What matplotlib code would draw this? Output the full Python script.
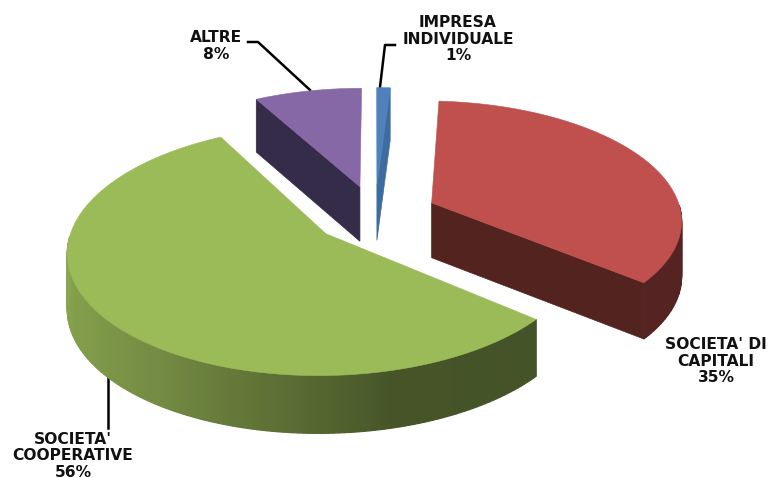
import numpy as np
import matplotlib
matplotlib.use("Agg")
import matplotlib.pyplot as plt
from matplotlib.colors import to_rgb

categories = ["IMPRESA\nINDIVIDUALE", "SOCIETA' DI\nCAPITALI", "SOCIETA'\nCOOPERATIVE", "ALTRE"]
shares = [1, 35, 56, 8]
top_colors = ["#4F81BD", "#C0504D", "#9BBB59", "#8768A6"]
cut_colors = ["#3E6C9E", "#52231F", "#3F4D22", "#352C49"]

CX, CY, A, B, K, EXPL, DEPTH = 375, 214.5, 250, 118, 0.13, 0.25, 55

def project(X, Y, drop=0.0):
    w = 1 + K * Y
    return CX + A * X / w, CY - B * Y / w + drop / w ** 0.3

def rim(t, ox, oy, drop=0.0):
    return project(ox + np.sin(t), oy + np.cos(t), drop)

def side_shade(base_top, t):
    deg = np.degrees(t)
    stops_x = [90, 165, 185, 215, 235, 270]
    stops_f = [0.44, 0.45, 0.58, 0.75, 0.82, 0.9]
    return np.array(to_rgb(base_top)) * np.interp(deg, stops_x, stops_f)

fig = plt.figure(figsize=(7.69, 4.78), dpi=100)
ax = fig.add_axes([0, 0, 1, 1])
ax.set_xlim(0, 769)
ax.set_ylim(478, 0)
ax.axis("off")

fracs = np.array(shares) / sum(shares)
edges = np.concatenate([[0], np.cumsum(fracs)]) * 2 * np.pi

lw = 1.8
ax.plot([248, 258, 310], [42, 42, 90], color="black", lw=lw, zorder=0.5)
ax.plot([395, 385, 380], [45, 45, 87], color="black", lw=lw, zorder=0.5)
ax.plot([108, 108], [360, 428], color="black", lw=lw, zorder=0.5)

order = [3, 0, 1, 2]
for i in order:
    t0, t1 = edges[i], edges[i + 1]
    mid = (t0 + t1) / 2
    ox, oy = EXPL * np.sin(mid), EXPL * np.cos(mid)
    ts = np.linspace(t0, t1, max(4, int(np.degrees(t1 - t0))))
    for t, vis in ((t0, np.sin(t0) < 0), (t1, np.sin(t1) > 0)):
        if vis:
            p0 = project(ox, oy); p1 = rim(t, ox, oy)
            p2 = rim(t, ox, oy, DEPTH); p3 = project(ox, oy, DEPTH)
            ax.fill([p0[0], p1[0], p2[0], p3[0]], [p0[1], p1[1], p2[1], p3[1]],
                    color=cut_colors[i], lw=0.5, zorder=i + 1)
    for a, b in zip(ts[:-1], ts[1:]):
        m = (a + b) / 2
        if np.cos(m) < -0.02:
            p = rim(a, ox, oy); q = rim(b, ox, oy)
            r = rim(b, ox, oy, DEPTH); s = rim(a, ox, oy, DEPTH)
            col = side_shade(top_colors[i], m)
            ax.fill([p[0], q[0], r[0], s[0]], [p[1], q[1], r[1], s[1]],
                    facecolor=col, edgecolor=col, lw=0.9, zorder=i + 1)
    xs, ys = rim(ts, ox, oy)
    px, py = project(ox, oy)
    ax.fill(np.r_[px, xs], np.r_[py, ys], color=top_colors[i], lw=0.4, zorder=i + 1.5)

tk = dict(family="DejaVu Sans", weight="bold", fontsize=11.2, ha="center", va="center",
          color="#111111", linespacing=1.1, zorder=11)
labels = [f"{c}\n{v}%" for c, v in zip(categories, shares)]
ax.text(458, 39, labels[0], **tk)
ax.text(716, 361, labels[1], **tk)
ax.text(73, 456, labels[2], **tk)
ax.text(216, 46, labels[3], **tk)

fig.savefig("out.png", dpi=100, facecolor="white")
